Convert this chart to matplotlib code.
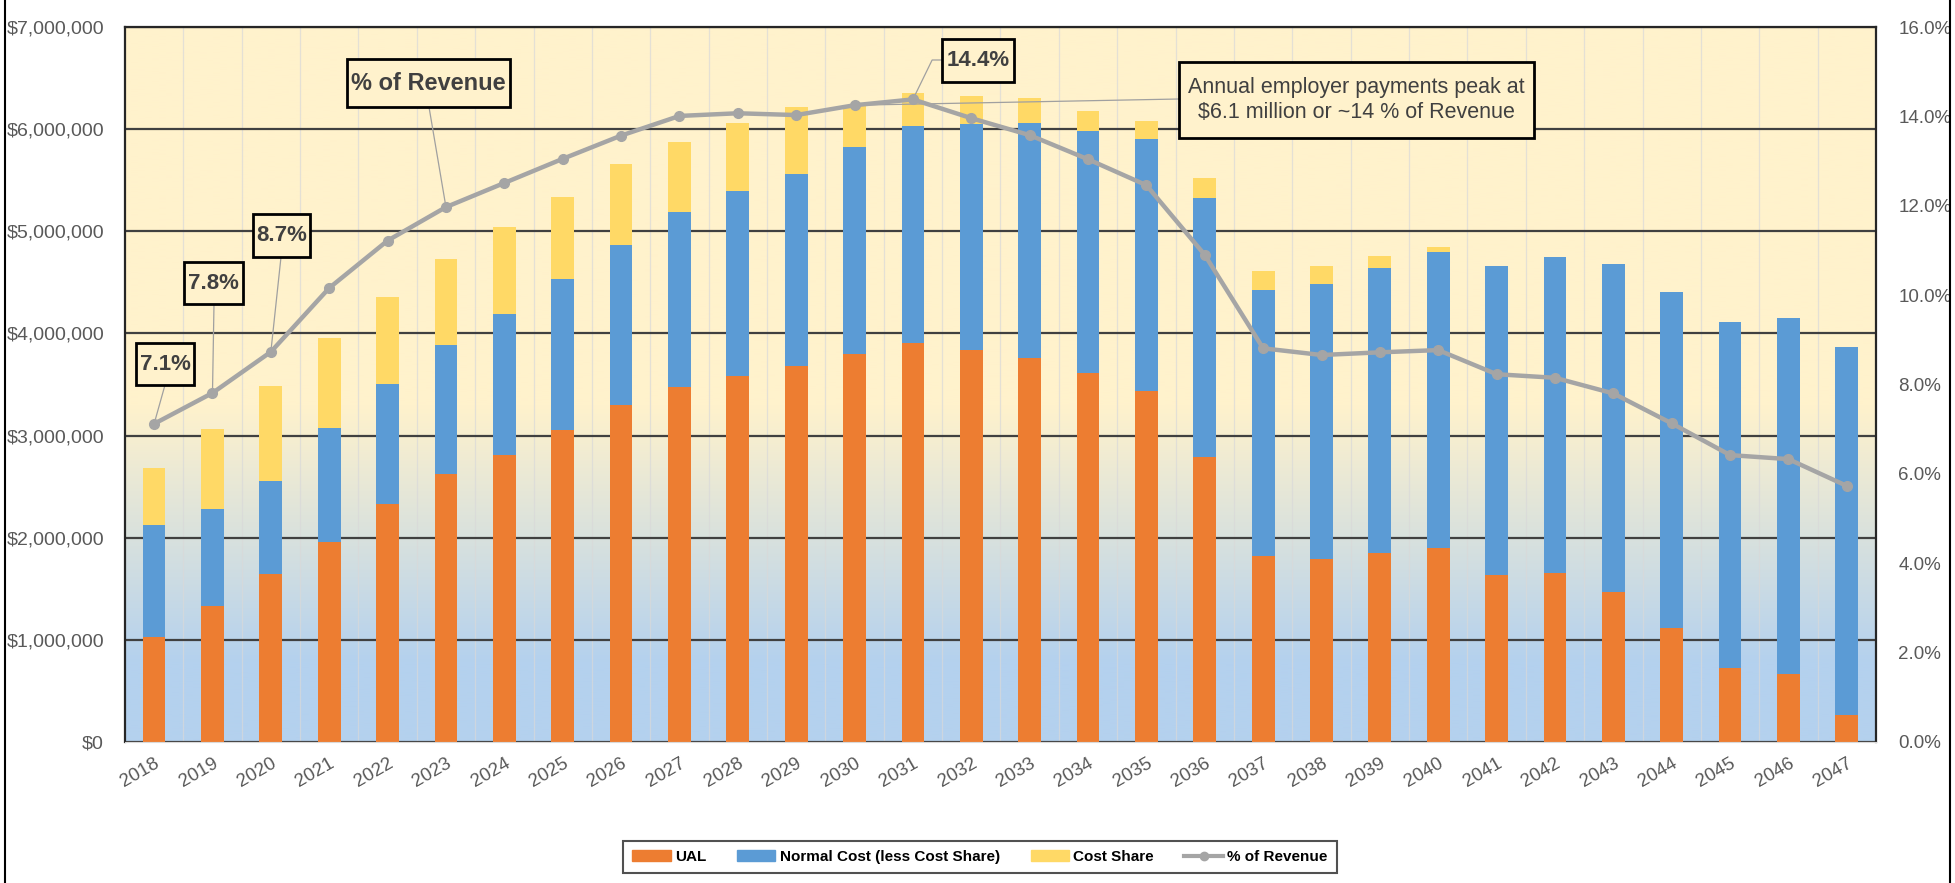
import matplotlib.pyplot as plt
import numpy as np
from matplotlib.colors import to_rgb
from matplotlib.lines import Line2D
from matplotlib.patches import Patch, Rectangle

# Fonts
plt.rcParams['font.family'] = ['Liberation Sans', 'DejaVu Sans']

years = [str(y) for y in range(2018, 2048)]

# dollars per year
ual = [1031000, 1331000, 1645000, 1955000, 2330000, 2624000, 2810000, 3055000, 3299000, 3473000,
       3583000, 3681000, 3796000, 3903000, 3838000, 3756000, 3610000, 3440000, 2793000, 1821000,
       1789000, 1847000, 1896000, 1635000, 1652000, 1472000, 1113000, 721000, 663000, 264000]
normal_cost = [1090000, 950000, 913000, 1122000, 1175000, 1263000, 1377000, 1475000, 1567000, 1713000,
               1812000, 1880000, 2026000, 2128000, 2209000, 2301000, 2375000, 2460000, 2536000, 2604000,
               2695000, 2791000, 2898000, 3025000, 3093000, 3208000, 3290000, 3388000, 3491000, 3606000]
cost_share = [565000, 783000, 927000, 875000, 855000, 839000, 852000, 809000, 790000, 685000,
              669000, 652000, 400000, 320000, 278000, 245000, 196000, 183000, 196000, 189000,
              176000, 120000, 49000, 0, 0, 0, 0, 0, 0, 0]
pct_revenue = [7.12, 7.81, 8.73, 10.16, 11.22, 11.97, 12.51, 13.05, 13.57, 14.01,
               14.07, 14.03, 14.25, 14.38, 13.96, 13.58, 13.04, 12.46, 10.90, 8.81,
               8.66, 8.72, 8.77, 8.23, 8.15, 7.80, 7.13, 6.42, 6.33, 5.73]

c_ual = "#ED7D31"
c_nc = "#5B9BD5"
c_cs = "#FFD966"
c_line = "#A5A5A5"
c_text = "#595959"

W, H = 1955, 883
fig = plt.figure(figsize=(W / 100, H / 100), dpi=100)
ax = fig.add_axes([0.0639, 0.1597, 0.8957, 0.8097])
ax2 = ax.twinx()

# background gradient: pale yellow on top fading to light blue at the bottom
n = 256
frac = np.linspace(0, 1, n)
yellow = np.array(to_rgb("#FFF2CC"))
blue = np.array(to_rgb("#B4D1EE"))
t = np.clip((frac - 0.11) / (0.47 - 0.11), 0, 1)
grad = (blue[None, :] * (1 - t[:, None]) + yellow[None, :] * t[:, None])[:, None, :]
ax.imshow(grad, extent=(0, 1, 0, 1), transform=ax.transAxes, origin="lower",
          aspect="auto", zorder=0, interpolation="bilinear")

x = np.arange(len(years))
ual_a = np.array(ual)
nc_a = np.array(normal_cost)
cs_a = np.array(cost_share)
w = 0.39
ax.bar(x, ual_a, w, color=c_ual, zorder=2, label="UAL")
ax.bar(x, nc_a, w, bottom=ual_a, color=c_nc, zorder=2, label="Normal Cost (less Cost Share)")
ax.bar(x, cs_a, w, bottom=ual_a + nc_a, color=c_cs, zorder=2, label="Cost Share")

ax.set_xlim(-0.5, len(years) - 0.5)
ax.set_ylim(0, 7000000)
ax.set_yticks(np.arange(0, 7000001, 1000000))
ax.set_yticklabels([f"${v:,.0f}" for v in np.arange(0, 7000001, 1000000)])
ax.set_xticks(x)
ax.set_xticklabels(years, rotation=30, ha="right", va="top", rotation_mode="anchor")
ax.set_xticks(np.arange(0.5, len(years) - 1, 1), minor=True)

ax.set_axisbelow(True)
ax.grid(True, axis="y", which="major", color="#404040", linewidth=1.6, zorder=1)
ax.grid(True, axis="x", which="minor", color="#D9D9D9", alpha=0.7, linewidth=0.9, zorder=1)
ax.tick_params(axis="y", labelsize=14, labelcolor=c_text, length=0, pad=15)
ax.tick_params(axis="x", which="major", labelsize=13.5, labelcolor=c_text, length=0, pad=9)
ax.tick_params(axis="x", which="minor", length=0)

for s in ["left", "right", "top"]:
    ax.spines[s].set_color("#262626")
    ax.spines[s].set_linewidth(1.6)
ax.spines["bottom"].set_color("#D9D9D9")

# % of revenue line on the right axis
ax2.plot(x, pct_revenue, color=c_line, linewidth=3.2, marker="o", markersize=7,
         zorder=5, label="% of Revenue")
ax2.set_ylim(0, 16)
ax2.set_yticks(np.arange(0, 16.1, 2))
ax2.set_yticklabels([f"{v:.1f}%" for v in np.arange(0, 16.1, 2)])
ax2.tick_params(axis="y", labelsize=13.5, labelcolor=c_text, length=0, pad=16)
for s in ax2.spines.values():
    s.set_visible(False)


def fx(px):
    return px / W


def fy(py):
    return 1 - py / H


def callout(text, box, start, idx, size, weight="bold", conn="arc3"):
    # box and leader start are in picture pixels (top-left origin)
    x0, y0, x1, y1 = box
    fig.add_artist(Rectangle((fx(x0), fy(y1)), fx(x1 - x0), (y1 - y0) / H,
                             transform=fig.transFigure, facecolor="#FFF2CC",
                             edgecolor="black", linewidth=2, zorder=6))
    fig.text(fx((x0 + x1) / 2), fy((y0 + y1) / 2), text, ha="center", va="center",
             fontsize=size, fontweight=weight, color="#404040", zorder=7, linespacing=1.25)
    ax2.annotate("", xy=(x[idx], pct_revenue[idx]), xytext=(fx(start[0]), fy(start[1])),
                 textcoords="figure fraction",
                 arrowprops=dict(arrowstyle="-", color="#A0A0A0", linewidth=0.9,
                                 shrinkA=0, shrinkB=0, connectionstyle=conn))


callout(f"{pct_revenue[0]:.1f}%", (136, 343, 194, 385), (165, 385), 0, 16)
callout(f"{pct_revenue[1]:.1f}%", (184, 262, 243, 304), (214, 304), 1, 16)
callout(f"{pct_revenue[2]:.1f}%", (253, 214, 310, 257), (281, 257), 2, 16)
callout("% of Revenue", (347, 59, 510, 107), (429, 107), 5, 17)
callout(f"{pct_revenue[13]:.1f}%", (942, 39, 1014, 82), (942, 60), 13, 16,
        conn="angle,angleA=180,angleB=64,rad=0")
callout("Annual employer payments peak at\n$6.1 million or ~14 % of Revenue",
        (1179, 62, 1534, 138), (1179, 99), 12, 15.5, weight="normal")

handles = [Patch(color=c_ual, label="UAL"),
           Patch(color=c_nc, label="Normal Cost (less Cost Share)"),
           Patch(color=c_cs, label="Cost Share"),
           Line2D([], [], color=c_line, linewidth=3, marker="o", markersize=6, label="% of Revenue")]
leg = fig.legend(handles=handles, loc="center", bbox_to_anchor=(0.5013, 0.0294), ncol=4,
                 frameon=True, fancybox=False, handlelength=2.5, handleheight=0.7,
                 handletextpad=0.3, columnspacing=2.0, borderpad=0.6,
                 prop={"weight": "bold", "size": 11})
leg.get_frame().set_edgecolor("#262626")
leg.get_frame().set_linewidth(1.5)

# outer frame lines of the original picture
fig.add_artist(Line2D([0.0026, 0.0026], [0, 1], transform=fig.transFigure, color="black", linewidth=1.5))
fig.add_artist(Line2D([0.9974, 0.9974], [0, 1], transform=fig.transFigure, color="black", linewidth=1.5))

fig.savefig("out.png", dpi=100)
